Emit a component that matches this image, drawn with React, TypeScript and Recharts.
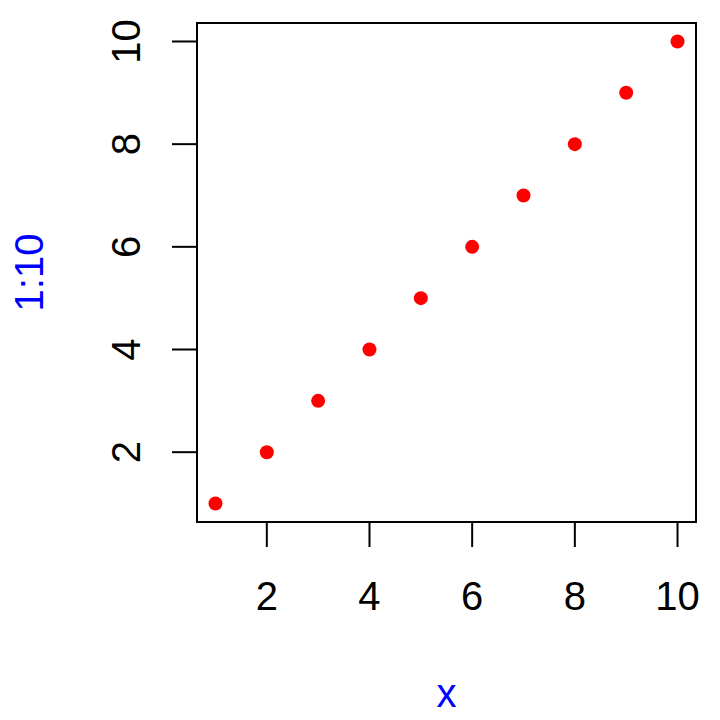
// Scatter plot of 1:10 against x, in the style of an R base graphics plot

import React from 'react';
import { Label, ReferenceArea, Scatter, ScatterChart, XAxis, YAxis } from 'recharts';

const xValues = [1, 2, 3, 4, 5, 6, 7, 8, 9, 10];
const yValues = [1, 2, 3, 4, 5, 6, 7, 8, 9, 10];
const xTicks = [2, 4, 6, 8, 10];
const yTicks = [2, 4, 6, 8, 10];
const xLabel = 'x';
const yLabel = '1:10';

const FONT = '"Liberation Sans", Arial, sans-serif';
const LO = 0.64;
const HI = 10.36;
// recharts shifts tick props by tickSize + tickMargin even with tickLine off
const SHIFT = 8;

const data = xValues.map((x, i) => ({ x, y: yValues[i] }));

// Tick mark + label below the box
function XTick(props: any) {
  const { x, payload } = props;
  const y = props.y - SHIFT;
  return (
    <g>
      <line x1={x} y1={y} x2={x} y2={y + 25} stroke="#000" strokeWidth={2} />
      <text x={x} y={y + 88} textAnchor="middle" fontSize={40} fontFamily={FONT} fill="#000">
        {payload.value}
      </text>
    </g>
  );
}

// Tick mark + rotated label left of the box
function YTick(props: any) {
  const { y, payload } = props;
  const x = props.x + SHIFT;
  const tx = x - 57;
  return (
    <g>
      <line x1={x} y1={y} x2={x - 25} y2={y} stroke="#000" strokeWidth={2} />
      <text
        x={tx}
        y={y}
        transform={`rotate(-90, ${tx}, ${y})`}
        textAnchor="middle"
        fontSize={40}
        fontFamily={FONT}
        fill="#000"
      >
        {payload.value}
      </text>
    </g>
  );
}

export default function App() {
  return (
    <div style={{ position: 'absolute', left: 0, top: 0, background: '#fff' }}>
      <ScatterChart width={720} height={720} margin={{ top: 23, right: 24, bottom: 0, left: 0 }}>
        <XAxis
          type="number"
          dataKey="x"
          domain={[LO, HI]}
          ticks={xTicks}
          height={198}
          axisLine={false}
          tickLine={false}
          tick={<XTick />}
          allowDataOverflow
        >
          <Label
            content={(p: any) => {
              const vb = p.viewBox;
              return (
                <text
                  x={vb.x + vb.width / 2}
                  y={707}
                  textAnchor="middle"
                  fontSize={40}
                  fontFamily={FONT}
                  fill="#0000ff"
                >
                  {xLabel}
                </text>
              );
            }}
          />
        </XAxis>
        <YAxis
          type="number"
          dataKey="y"
          domain={[LO, HI]}
          ticks={yTicks}
          width={197}
          axisLine={false}
          tickLine={false}
          tick={<YTick />}
          allowDataOverflow
        >
          <Label
            content={(p: any) => {
              const vb = p.viewBox;
              const cy = vb.y + vb.height / 2;
              return (
                <text
                  x={43}
                  y={cy}
                  transform={`rotate(-90, 43, ${cy})`}
                  textAnchor="middle"
                  fontSize={40}
                  fontFamily={FONT}
                  fill="#0000ff"
                >
                  {yLabel}
                </text>
              );
            }}
          />
        </YAxis>
        <ReferenceArea x1={LO} x2={HI} y1={LO} y2={HI} fill="none" stroke="#000" strokeWidth={2} fillOpacity={0} />
        <Scatter
          data={data}
          isAnimationActive={false}
          shape={(p: any) => <circle cx={p.cx} cy={p.cy} r={7} fill="#ff0000" />}
        />
      </ScatterChart>
    </div>
  );
}
